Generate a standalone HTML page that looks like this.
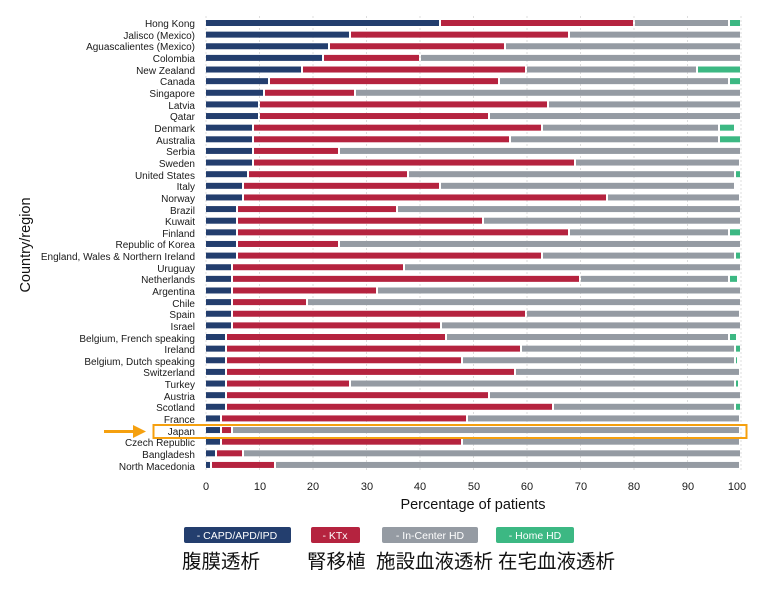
<!DOCTYPE html>
<html><head><meta charset="utf-8"><style>
body{margin:0;background:#fff;width:758px;height:589px;overflow:hidden}
svg{display:block;font-family:"Liberation Sans",Arial,sans-serif}
.l{font-size:10px;fill:#1a1a1a;text-anchor:end}
.t{font-size:11px;fill:#1a1a1a;text-anchor:middle}
.cj{font-family:"Liberation Sans","Noto Sans CJK JP",sans-serif;font-size:19.5px;fill:#111}
.lg{font-size:10.5px;fill:#fff;text-anchor:middle}
</style></head><body>
<svg id="s" width="758" height="589" viewBox="0 0 758 589">
<g id="grid"></g><g id="bars"></g>
<g id="labels">
<text class="l" x="195" y="27">Hong Kong</text>
<text class="l" x="195" y="39">Jalisco (Mexico)</text>
<text class="l" x="195" y="50">Aguascalientes (Mexico)</text>
<text class="l" x="195" y="62">Colombia</text>
<text class="l" x="195" y="74">New Zealand</text>
<text class="l" x="195" y="85">Canada</text>
<text class="l" x="195" y="97">Singapore</text>
<text class="l" x="195" y="109">Latvia</text>
<text class="l" x="195" y="120">Qatar</text>
<text class="l" x="195" y="132">Denmark</text>
<text class="l" x="195" y="144">Australia</text>
<text class="l" x="195" y="155">Serbia</text>
<text class="l" x="195" y="167">Sweden</text>
<text class="l" x="195" y="179">United States</text>
<text class="l" x="195" y="190">Italy</text>
<text class="l" x="195" y="202">Norway</text>
<text class="l" x="195" y="214">Brazil</text>
<text class="l" x="195" y="225">Kuwait</text>
<text class="l" x="195" y="237">Finland</text>
<text class="l" x="195" y="248">Republic of Korea</text>
<text class="l" x="195" y="260">England, Wales &amp; Northern Ireland</text>
<text class="l" x="195" y="272">Uruguay</text>
<text class="l" x="195" y="283">Netherlands</text>
<text class="l" x="195" y="295">Argentina</text>
<text class="l" x="195" y="307">Chile</text>
<text class="l" x="195" y="318">Spain</text>
<text class="l" x="195" y="330">Israel</text>
<text class="l" x="195" y="342">Belgium, French speaking</text>
<text class="l" x="195" y="353">Ireland</text>
<text class="l" x="195" y="365">Belgium, Dutch speaking</text>
<text class="l" x="195" y="376">Switzerland</text>
<text class="l" x="195" y="388">Turkey</text>
<text class="l" x="195" y="400">Austria</text>
<text class="l" x="195" y="411">Scotland</text>
<text class="l" x="195" y="423">France</text>
<text class="l" x="195" y="435">Japan</text>
<text class="l" x="195" y="446">Czech Republic</text>
<text class="l" x="195" y="458">Bangladesh</text>
<text class="l" x="195" y="470">North Macedonia</text>
</g>
<text class="t" x="206" y="490">0</text><text class="t" x="260" y="490">10</text><text class="t" x="313" y="490">20</text><text class="t" x="367" y="490">30</text><text class="t" x="420" y="490">40</text><text class="t" x="474" y="490">50</text><text class="t" x="527" y="490">60</text><text class="t" x="581" y="490">70</text><text class="t" x="634" y="490">80</text><text class="t" x="688" y="490">90</text><text class="t" x="737" y="490">100</text>
<text x="473" y="509" font-size="14.5" text-anchor="middle" fill="#111">Percentage of patients</text>
<text transform="translate(30,245) rotate(-90)" font-size="14.5" text-anchor="middle" fill="#111">Country/region</text>
<rect x="153.5" y="425" width="593" height="13" fill="none" stroke="#f5a00f" stroke-width="2"/>
<line x1="104" y1="431.5" x2="135" y2="431.5" stroke="#f5a00f" stroke-width="3"/>
<polygon points="133,425 146,431.5 133,438" fill="#f5a00f"/>
<rect x="184" y="527" width="107" height="16" rx="2" fill="#233e6e"/><text class="lg" x="237" y="539">- CAPD/APD/IPD</text>
<rect x="311" y="527" width="49" height="16" rx="2" fill="#b5233f"/><text class="lg" x="335" y="539">- KTx</text>
<rect x="382" y="527" width="96" height="16" rx="2" fill="#959ba3"/><text class="lg" x="430" y="539">- In-Center HD</text>
<rect x="496" y="527" width="78" height="16" rx="2" fill="#3cb883"/><text class="lg" x="535" y="539">- Home HD</text>
<text class="cj" x="182" y="568">腹膜透析</text>
<text class="cj" x="307" y="568">腎移植</text>
<text class="cj" x="376" y="568">施設血液透析</text>
<text class="cj" x="498" y="568">在宅血液透析</text>
</svg>
<script>
var d=[[440,634,729,741],[350,569,741],[329,505,741],[323,420,741],[302,526,697,741],[269,499,729,741],[264,355,741],[259,548,741],[259,489,741],[253,542,719,735],[253,510,719,741],[253,339,741],[253,575,740],[248,408,735,741],[243,440,735],[243,607,740],[237,397,741],[237,483,741],[237,569,729,741],[237,339,741],[237,542,735,741],[232,404,741],[232,580,729,738],[232,377,741],[232,307,741],[232,526,740],[232,441,741],[226,446,729,737],[226,521,735,741],[226,462,735,738],[226,515,740],[226,350,735,739],[226,489,741],[226,553,735,741],[221,467,740],[221,232,740],[221,462,740],[216,243,741],[211,275,740]];
var c=["#233e6e","#b5233f","#959ba3","#3cb883"],ns="http://www.w3.org/2000/svg";
var g=document.getElementById("grid"),b=document.getElementById("bars");
for(var i=0;i<=10;i++){var l=document.createElementNS(ns,"line");var x=206+i*53.5;l.setAttribute("x1",x);l.setAttribute("x2",x);l.setAttribute("y1",16);l.setAttribute("y2",472);l.setAttribute("stroke","#ddd");l.setAttribute("stroke-dasharray","2,2");g.appendChild(l);}
d.forEach(function(r,k){var y=23+k*11.63-3,p=206;r.forEach(function(e,j){var t=document.createElementNS(ns,"rect");t.setAttribute("x",p);t.setAttribute("y",y);t.setAttribute("width",Math.max(e-p-1,1));t.setAttribute("height",6);t.setAttribute("fill",c[j]);b.appendChild(t);p=e+1;});});
</script>
</body></html>
